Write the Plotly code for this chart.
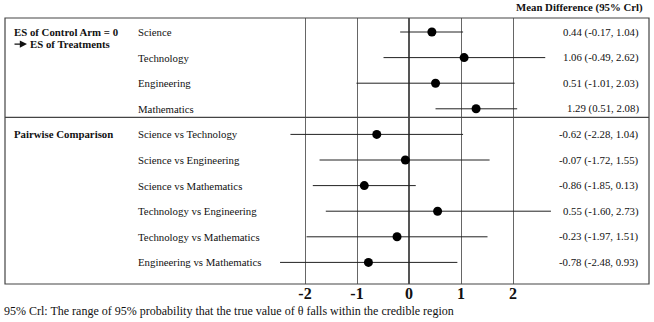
import plotly.graph_objects as go

labels = ["Science", "Technology", "Engineering", "Mathematics",
          "Science vs Technology", "Science vs Engineering", "Science vs Mathematics",
          "Technology vs Engineering", "Technology vs Mathematics", "Engineering vs Mathematics"]
mean = [0.44, 1.06, 0.51, 1.29, -0.62, -0.07, -0.86, 0.55, -0.23, -0.78]
lo = [-0.17, -0.49, -1.01, 0.51, -2.28, -1.72, -1.85, -1.60, -1.97, -2.48]
hi = [1.04, 2.62, 2.03, 2.08, 1.04, 1.55, 0.13, 2.73, 1.51, 0.93]
tick_vals = [-2, -1, 0, 1, 2]
tick_text = ["-2", "-1", "0", "1", "2"]
group_labels = ["ES of Control Arm = 0", "ES of Treatments", "Pairwise Comparison"]
header = "Mean Difference (95% Crl)"
footer = "95% Crl: The range of 95% probability that the true value of θ falls within the credible region"

FONT = "Liberation Serif, Times New Roman, serif"
FS = 10.8
W, H = 654, 322
ML, MR, MT, MB = 5, 5, 18, 38
PW = W - ML - MR
PH = H - MT - MB

rows = list(range(len(labels)))

fig = go.Figure()
fig.add_trace(go.Scatter(
    x=mean, y=rows, mode="markers",
    marker=dict(color="black", size=9),
    error_x=dict(type="data", symmetric=False,
                 array=[h - m for h, m in zip(hi, mean)],
                 arrayminus=[m - l for m, l in zip(mean, lo)],
                 color="#222", thickness=1, width=0),
    hoverinfo="skip", cliponaxis=False,
))

def px_x(p):
    return (p - ML) / PW

ann = []
for i, lab in enumerate(labels):
    ann.append(dict(x=px_x(136), xref="paper", y=i, yref="y", text=lab,
                    xanchor="left", yanchor="middle", showarrow=False,
                    font=dict(family=FONT, size=FS, color="#111")))
    ann.append(dict(x=px_x(641), xref="paper", y=i, yref="y",
                    text=f"{mean[i]:.2f} ({lo[i]:.2f}, {hi[i]:.2f})",
                    xanchor="right", yanchor="middle", showarrow=False,
                    font=dict(family=FONT, size=FS, color="#111")))

ann.append(dict(x=px_x(12), xref="paper", y=0, yref="y", text="<b>%s</b>" % group_labels[0],
                xanchor="left", yanchor="middle", showarrow=False,
                font=dict(family=FONT, size=FS, color="#111")))
ann.append(dict(x=px_x(28), xref="paper", y=0.47, yref="y", text="<b>%s</b>" % group_labels[1],
                xanchor="left", yanchor="middle", showarrow=False,
                font=dict(family=FONT, size=FS, color="#111")))
ann.append(dict(x=px_x(27), xref="paper", y=0.47, yref="y", text="",
                showarrow=True, ax=-14, ay=0, arrowhead=2, arrowsize=1.2,
                arrowwidth=1.2, arrowcolor="#111"))
ann.append(dict(x=px_x(12), xref="paper", y=4, yref="y", text="<b>%s</b>" % group_labels[2],
                xanchor="left", yanchor="middle", showarrow=False,
                font=dict(family=FONT, size=FS, color="#111")))
ann.append(dict(x=px_x(645), xref="paper", y=1 + (MT - 7) / PH, yref="paper",
                text="<b>%s</b>" % header, xanchor="right", yanchor="middle",
                showarrow=False, font=dict(family=FONT, size=FS, color="#111")))
ann.append(dict(x=px_x(2), xref="paper", y=-(311 - (MT + PH)) / PH, yref="paper",
                text=footer, xanchor="left", yanchor="middle",
                showarrow=False, font=dict(family=FONT, size=12, color="#111")))

sep_y = (117.3 - 32) / 25.6
shapes = [
    dict(type="rect", xref="paper", yref="paper", x0=0, x1=1, y0=0, y1=1,
         line=dict(color="#444", width=1.2), layer="above"),
    dict(type="line", xref="paper", yref="y", x0=0, x1=1, y0=sep_y, y1=sep_y,
         line=dict(color="#444", width=1.2)),
]

pxu = 52.0
x0px = 409
fig.update_layout(
    width=W, height=H,
    margin=dict(l=ML, r=MR, t=MT, b=MB),
    plot_bgcolor="white", paper_bgcolor="white",
    showlegend=False,
    xaxis=dict(range=[(ML - x0px) / pxu, (W - MR - x0px) / pxu],
               tickvals=tick_vals, ticktext=["<b>%s</b>" % t for t in tick_text],
               automargin=False,
               showgrid=True, gridcolor="#666", gridwidth=1,
               zeroline=True, zerolinecolor="#555", zerolinewidth=1.5,
               showline=False, ticks="", ticklabelstandoff=-2,
               tickfont=dict(family=FONT, size=16, color="#111")),
    yaxis=dict(range=[(MT + PH - 32) / 25.6, (MT - 32) / 25.6], automargin=False,
               showgrid=False, zeroline=False, showticklabels=False, ticks=""),
    annotations=ann, shapes=shapes,
)

fig.write_html("out.html", config={"displayModeBar": False},
               post_script="document.body.style.margin='0';document.body.style.padding='0';")
